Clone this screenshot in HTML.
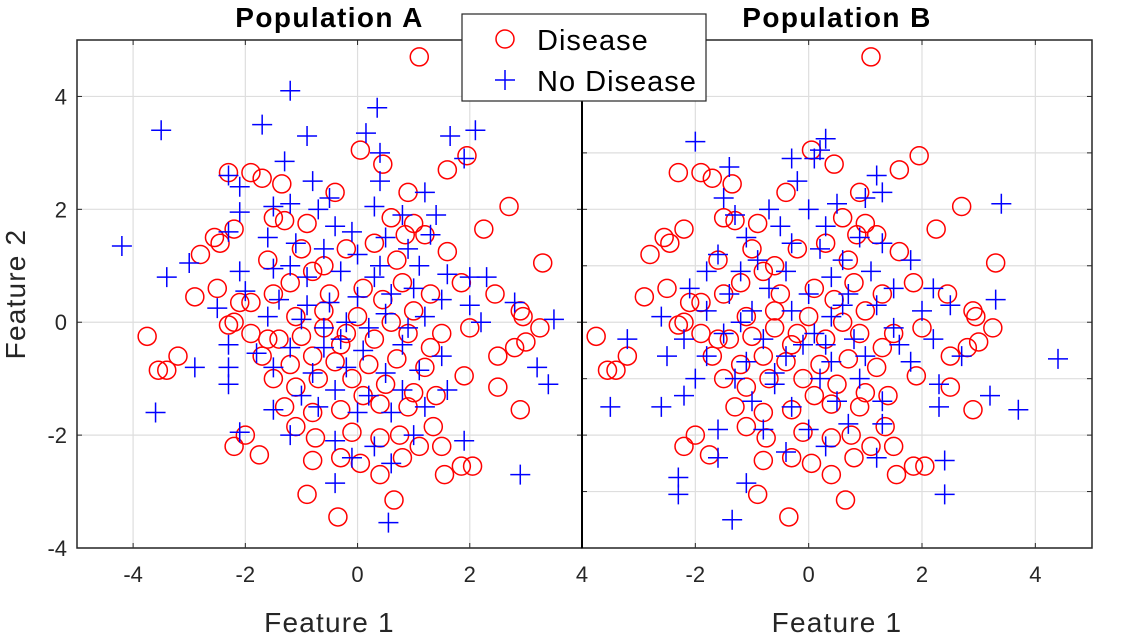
<!DOCTYPE html>
<html><head><meta charset="utf-8"><style>
body{margin:0;background:#fff}
svg{display:block;font-family:"Liberation Sans",sans-serif}
</style></head><body>
<svg id="chart" width="1136" height="636"></svg>
<script>
const disease = [[1.1,4.7],[0.05,3.05],[0.45,2.8],[1.95,2.95],[1.6,2.7],[2.7,2.05],[-2.3,2.65],[-1.7,2.55],[-1.9,2.65],[-1.35,2.45],[-0.4,2.3],[0.9,2.3],[-2.55,1.5],[-2.2,1.65],[-2.45,1.4],[-2.8,1.2],[-1.5,1.85],[-1.3,1.8],[-0.9,1.75],[-1.0,1.3],[-1.6,1.1],[-0.2,1.3],[0.3,1.4],[0.6,1.85],[1.0,1.75],[1.2,1.55],[0.85,1.55],[2.25,1.65],[1.6,1.25],[-2.9,0.45],[-2.5,0.6],[-1.9,0.35],[-2.1,0.35],[-1.5,0.5],[-1.2,0.7],[-0.8,0.9],[-0.5,0.5],[0.1,0.6],[0.45,0.4],[0.8,0.7],[1.3,0.5],[1.85,0.7],[2.45,0.5],[2.9,0.2],[3.3,1.05],[3.25,-0.1],[2.95,0.1],[2.0,-0.1],[1.5,-0.2],[-2.3,-0.05],[-2.2,0.0],[-1.9,-0.2],[-1.4,-0.3],[-1.0,-0.25],[-0.6,-0.1],[-0.2,-0.2],[0.3,-0.3],[0.9,-0.2],[1.3,-0.45],[-3.75,-0.25],[-3.2,-0.6],[-3.55,-0.85],[-3.4,-0.85],[-1.7,-0.6],[-1.2,-0.75],[-0.8,-0.6],[-0.3,-0.4],[0.2,-0.75],[0.7,-0.65],[1.2,-0.8],[2.5,-0.6],[2.8,-0.45],[3.0,-0.35],[2.5,-1.15],[-1.5,-1.0],[-1.1,-1.15],[-0.7,-1.0],[-0.1,-1.0],[0.5,-1.1],[1.0,-1.25],[1.4,-1.3],[1.9,-0.95],[-1.3,-1.5],[-0.8,-1.6],[-0.3,-1.55],[0.4,-1.45],[0.9,-1.5],[1.35,-1.85],[2.9,-1.55],[-2.0,-2.0],[-2.2,-2.2],[-1.75,-2.35],[-1.1,-1.85],[-0.75,-2.05],[-0.1,-1.95],[0.4,-2.05],[0.75,-2.0],[1.1,-2.2],[1.5,-2.2],[1.55,-2.7],[2.05,-2.55],[1.85,-2.55],[-0.8,-2.45],[-0.3,-2.4],[0.05,-2.5],[0.4,-2.7],[0.8,-2.4],[-0.9,-3.05],[-0.35,-3.45],[0.65,-3.15],[-0.6,0.2],[0.0,0.1],[0.6,0.0],[-1.1,0.1],[1.0,0.2],[-0.4,-0.7],[0.1,-1.3],[-1.6,-0.3],[0.7,1.1],[-0.6,1.0]];
const noDiseaseA = [[-4.2,1.35],[-3.5,3.4],[-1.2,4.1],[0.35,3.8],[-1.7,3.5],[-0.9,3.3],[0.15,3.35],[1.65,3.3],[2.1,3.4],[1.9,2.9],[0.4,3.0],[-1.3,2.85],[-2.3,2.6],[-2.1,2.4],[-0.8,2.5],[0.4,2.5],[1.2,2.3],[-1.5,2.05],[-1.2,2.1],[-0.7,2.0],[0.3,2.05],[0.8,1.9],[-2.1,1.95],[-2.3,1.6],[-0.4,1.7],[-0.1,1.6],[0.5,1.5],[1.3,1.55],[-1.6,1.5],[-1.1,1.4],[-0.6,1.3],[0.0,1.2],[0.9,1.3],[-3.0,1.05],[-3.4,0.8],[-2.1,0.9],[-1.5,0.95],[-0.9,0.8],[-0.3,0.9],[0.4,1.0],[1.1,1.0],[1.6,0.85],[2.0,0.8],[2.3,0.8],[-2.0,0.55],[-1.4,0.4],[-0.9,0.3],[-0.5,0.35],[0.0,0.45],[0.6,0.5],[1.0,0.6],[1.5,0.4],[2.0,0.3],[2.8,0.35],[3.5,0.05],[-2.5,0.25],[-1.6,0.1],[-1.0,0.05],[-0.2,0.0],[0.5,0.15],[1.2,0.1],[2.2,0.0],[-2.3,-0.4],[-1.8,-0.55],[-1.2,-0.45],[-0.6,-0.45],[0.1,-0.5],[0.8,-0.4],[1.5,-0.6],[-2.9,-0.8],[-2.3,-0.8],[-1.5,-0.8],[-0.8,-0.9],[-0.2,-0.8],[0.5,-0.9],[1.1,-0.85],[3.2,-0.8],[3.4,-1.1],[-2.3,-1.1],[-1.0,-1.3],[-0.4,-1.2],[0.2,-1.3],[0.8,-1.2],[1.6,-1.2],[-3.6,-1.6],[-1.5,-1.55],[-0.7,-1.5],[0.0,-1.6],[0.6,-1.6],[1.2,-1.5],[-2.1,-1.95],[-1.2,-2.0],[-0.4,-2.1],[0.3,-2.2],[1.0,-2.0],[1.9,-2.1],[-0.1,-2.4],[0.6,-2.5],[2.9,-2.7],[-0.4,-2.85],[0.55,-3.55],[-0.3,-0.3],[0.3,0.8],[-1.2,1.0],[0.9,-0.1],[-0.6,-0.1],[0.2,-0.1],[1.4,1.9],[-0.5,2.2]];
const noDiseaseB = [[-2.0,3.2],[0.3,3.25],[0.2,3.05],[-1.4,2.75],[-0.3,2.9],[0.1,2.9],[1.2,2.6],[1.3,2.3],[3.4,2.1],[-1.5,2.2],[-0.2,2.5],[0.5,2.1],[-1.3,1.9],[-0.7,2.0],[0.0,2.0],[1.0,2.2],[-0.5,1.7],[0.3,1.7],[0.9,1.5],[-1.1,1.5],[-0.3,1.4],[0.2,1.3],[1.3,1.4],[-1.6,1.2],[-0.9,1.1],[0.6,1.1],[1.8,1.1],[-1.8,0.9],[-1.2,0.9],[-0.4,0.9],[0.4,0.8],[1.1,0.9],[2.2,0.6],[-2.1,0.6],[-1.4,0.5],[-0.7,0.6],[0.0,0.5],[0.7,0.5],[1.5,0.6],[2.5,0.3],[3.3,0.4],[-2.6,0.1],[-1.8,0.2],[-1.0,0.2],[-0.3,0.2],[0.4,0.1],[1.2,0.3],[2.0,0.2],[-3.2,-0.3],[-2.2,-0.3],[-1.5,-0.2],[-0.8,-0.3],[0.1,-0.2],[0.8,-0.3],[1.5,-0.1],[2.2,-0.3],[-2.5,-0.6],[-1.8,-0.6],[-1.1,-0.7],[-0.4,-0.6],[0.4,-0.7],[1.0,-0.6],[1.8,-0.7],[2.7,-0.6],[4.4,-0.65],[-2.0,-1.0],[-1.3,-1.0],[-0.6,-1.1],[0.2,-1.0],[0.9,-1.0],[2.3,-1.1],[-3.5,-1.5],[-2.6,-1.5],[-2.2,-1.3],[-1.0,-1.4],[-0.3,-1.5],[0.5,-1.4],[1.3,-1.4],[2.3,-1.5],[3.2,-1.3],[3.7,-1.55],[-1.6,-1.9],[-0.8,-1.9],[0.0,-1.9],[0.7,-1.8],[1.3,-1.8],[-1.6,-2.4],[-0.4,-2.3],[0.3,-2.2],[1.2,-2.4],[2.4,-2.45],[-2.3,-2.75],[-2.3,-3.05],[-1.1,-2.85],[2.4,-3.05],[-1.35,-3.5],[-0.1,-0.4],[0.6,0.3],[-0.6,-0.9],[1.6,-0.4],[-1.2,0.0],[0.3,-0.4]];
const xTicksA=[-4,-2,0,2,4];
const xTicksB=[-2,0,2,4];
const yTicksA=[-4,-2,0,2,4];
const yTicksB=[-4,-3,-2,-1,0,1,2,3,4];

const NS='http://www.w3.org/2000/svg';
const svg=document.getElementById('chart');
function mk(tag,attrs,parent){const e=document.createElementNS(NS,tag);for(const k in attrs)e.setAttribute(k,attrs[k]);(parent||svg).appendChild(e);return e;}
const panels=[
 {x0:77,x1:582,xmin:-5,xmax:4,title:'Population A',nd:noDiseaseA,ylabels:true,xt:xTicksA,yt:yTicksA,name:'panel-a'},
 {x0:582,x1:1092,xmin:-4,xmax:5,title:'Population B',nd:noDiseaseB,ylabels:false,xt:xTicksB,yt:yTicksB,name:'panel-b'}];
const y0=40,y1=548,ymin=-4,ymax=5;
panels.forEach(p=>{
 const g=mk('g',{});
 
 
 const sx=v=>p.x0+(v-p.xmin)/(p.xmax-p.xmin)*(p.x1-p.x0);
 const sy=v=>y1-(v-ymin)/(ymax-ymin)*(y1-y0);
 p.xt.forEach(t=>{const X=sx(t);
  mk('line',{x1:X,x2:X,y1:y0,y2:y1,stroke:'#dedede','stroke-width':1.2},g);
  mk('line',{x1:X,x2:X,y1:y1,y2:y1-5,stroke:'#262626'},g);
  mk('line',{x1:X,x2:X,y1:y0,y2:y0+5,stroke:'#262626'},g);
  const tx=mk('text',{x:X,y:y1+34,'text-anchor':'middle','font-size':22,fill:'#262626'},g);tx.textContent=t;
  });
 p.yt.forEach(t=>{const Y=sy(t);
  mk('line',{x1:p.x0,x2:p.x1,y1:Y,y2:Y,stroke:'#dedede','stroke-width':1.2},g);
  mk('line',{x1:p.x0,x2:p.x0+5,y1:Y,y2:Y,stroke:'#262626'},g);
  mk('line',{x1:p.x1,x2:p.x1-5,y1:Y,y2:Y,stroke:'#262626'},g);
  if(p.ylabels){const tx=mk('text',{x:p.x0-10,y:Y+8,'text-anchor':'end','font-size':22,fill:'#262626'},g);tx.textContent=t;
  }});
 disease.forEach(d=>{const c=mk('circle',{cx:sx(d[0]),cy:sy(d[1]),r:9,fill:'none',stroke:'#ff0000','stroke-width':1.5},g);
  });
 p.nd.forEach(d=>{const X=sx(d[0]),Y=sy(d[1]);
  const pl=mk('path',{d:`M${X-10},${Y}H${X+10}M${X},${Y-10}V${Y+10}`,stroke:'#0000ff','stroke-width':1.5},g);
  });
 mk('rect',{x:p.x0,y:y0,width:p.x1-p.x0,height:y1-y0,fill:'none',stroke:'#262626','stroke-width':1.5},g);
 const t=mk('text',{x:(p.x0+p.x1)/2,y:27,'text-anchor':'middle','font-size':28,'font-weight':'bold','letter-spacing':1.4,fill:'#000'},g);t.textContent=p.title;
 
 const xl=mk('text',{x:(p.x0+p.x1)/2,y:632,'text-anchor':'middle','font-size':28,'letter-spacing':1.2,fill:'#262626'},g);xl.textContent='Feature 1';
 
});
mk('line',{x1:582,x2:582,y1:y0,y2:y1,stroke:'#000','stroke-width':2});
const yl=mk('text',{x:0,y:0,transform:'translate(25,294) rotate(-90)','text-anchor':'middle','font-size':28,'letter-spacing':1.2,fill:'#262626'});yl.textContent='Feature 2';

const lg=mk('g',{});


mk('rect',{x:462,y:14,width:244,height:87,fill:'#fff',stroke:'#262626','stroke-width':1.2},lg);
mk('circle',{cx:505,cy:39,r:9,fill:'none',stroke:'#ff0000','stroke-width':1.5},lg);
mk('path',{d:'M495,80H515M505,70V90',stroke:'#0000ff','stroke-width':1.5},lg);
const l1=mk('text',{x:537,y:50,'font-size':29,'letter-spacing':1,fill:'#000'},lg);l1.textContent='Disease';

const l2=mk('text',{x:537,y:91,'font-size':29,'letter-spacing':1,fill:'#000'},lg);l2.textContent='No Disease';

</script>
</body></html>
